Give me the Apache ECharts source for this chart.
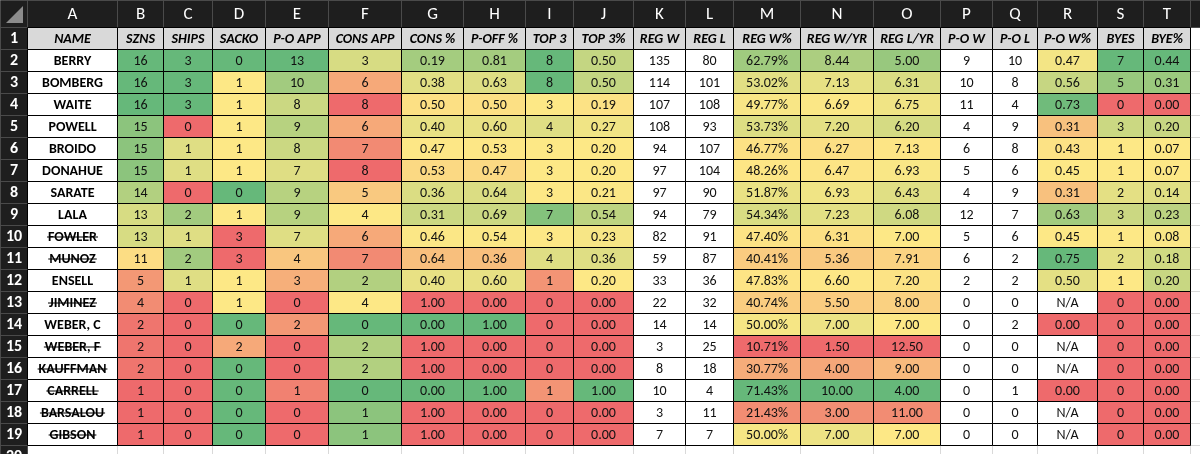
<!DOCTYPE html>
<html>
<head>
<meta charset="utf-8">
<script src="https://cdn.jsdelivr.net/npm/echarts@6/dist/echarts.min.js"></script>
<style>
  html, body { margin: 0; padding: 0; background: #fff; }
  #chart { width: 1200px; height: 454px; }
</style>
</head>
<body>
<div id="chart"></div>
<script>
// ---- data ----
var colLetters = ['A', 'B', 'C', 'D', 'E', 'F', 'G', 'H', 'I', 'J', 'K', 'L', 'M', 'N', 'O', 'P', 'Q', 'R', 'S', 'T', 'U'];
var headers = ['NAME', 'SZNS', 'SHIPS', 'SACKO', 'P-O APP', 'CONS APP', 'CONS %', 'P-OFF %', 'TOP 3', 'TOP 3%',
    'REG W', 'REG L', 'REG W%', 'REG W/YR', 'REG L/YR', 'P-O W', 'P-O L', 'P-O W%', 'BYES', 'BYE%'];
var names = ['BERRY', 'BOMBERG', 'WAITE', 'POWELL', 'BROIDO', 'DONAHUE', 'SARATE', 'LALA', 'FOWLER', 'MUNOZ',
    'ENSELL', 'JIMINEZ', 'WEBER, C', 'WEBER, F', 'KAUFFMAN', 'CARRELL', 'BARSALOU', 'GIBSON'];
var retired = ['FOWLER', 'MUNOZ', 'JIMINEZ', 'WEBER, F', 'KAUFFMAN', 'CARRELL', 'BARSALOU', 'GIBSON'];

var szns     = [16, 16, 16, 15, 15, 15, 14, 13, 13, 11, 5, 4, 2, 2, 2, 1, 1, 1];
var ships    = [3, 3, 3, 0, 1, 1, 0, 2, 1, 2, 1, 0, 0, 0, 0, 0, 0, 0];
var sacko    = [0, 1, 1, 1, 1, 1, 0, 1, 3, 3, 1, 1, 0, 2, 0, 0, 0, 0];
var poApp    = [13, 10, 8, 9, 8, 7, 9, 9, 7, 4, 3, 0, 2, 0, 0, 1, 0, 0];
var consApp  = [3, 6, 8, 6, 7, 8, 5, 4, 6, 7, 2, 4, 0, 2, 2, 0, 1, 1];
var consPct  = [0.19, 0.38, 0.50, 0.40, 0.47, 0.53, 0.36, 0.31, 0.46, 0.64, 0.40, 1, 0, 1, 1, 0, 1, 1];
var poffPct  = [0.81, 0.63, 0.50, 0.60, 0.53, 0.47, 0.64, 0.69, 0.54, 0.36, 0.60, 0, 1, 0, 0, 1, 0, 0];
var top3     = [8, 8, 3, 4, 3, 3, 3, 7, 3, 4, 1, 0, 0, 0, 0, 1, 0, 0];
var top3Pct  = [0.50, 0.50, 0.19, 0.27, 0.20, 0.20, 0.21, 0.54, 0.23, 0.36, 0.20, 0, 0, 0, 0, 1, 0, 0];
var regW     = [135, 114, 107, 108, 94, 97, 97, 94, 82, 59, 33, 22, 14, 3, 8, 10, 3, 7];
var regL     = [80, 101, 108, 93, 107, 104, 90, 79, 91, 87, 36, 32, 14, 25, 18, 4, 11, 7];
var regWPct  = [62.79, 53.02, 49.77, 53.73, 46.77, 48.26, 51.87, 54.34, 47.40, 40.41, 47.83, 40.74, 50.00, 10.71, 30.77, 71.43, 21.43, 50.00];
var regWYr   = [8.44, 7.13, 6.69, 7.20, 6.27, 6.47, 6.93, 7.23, 6.31, 5.36, 6.60, 5.50, 7.00, 1.50, 4.00, 10.00, 3.00, 7.00];
var regLYr   = [5.00, 6.31, 6.75, 6.20, 7.13, 6.93, 6.43, 6.08, 7.00, 7.91, 7.20, 8.00, 7.00, 12.50, 9.00, 4.00, 11.00, 7.00];
var poW      = [9, 10, 11, 4, 6, 5, 4, 12, 5, 6, 2, 0, 0, 0, 0, 0, 0, 0];
var poL      = [10, 8, 4, 9, 8, 6, 9, 7, 6, 2, 2, 0, 2, 0, 0, 1, 0, 0];
var poWPct   = [0.47, 0.56, 0.73, 0.31, 0.43, 0.45, 0.31, 0.63, 0.45, 0.75, 0.50, null, 0, null, null, 0, null, null];
var byes     = [7, 5, 0, 3, 1, 1, 2, 3, 1, 2, 1, 0, 0, 0, 0, 0, 0, 0];
var byePct   = [0.44, 0.31, 0, 0.20, 0.07, 0.07, 0.14, 0.23, 0.08, 0.18, 0.20, 0, 0, 0, 0, 0, 0, 0];

// columns B..T: values, number format, colour scale (1 = high is green, -1 = low is green, 0 = none)
var columns = [
    {v: szns, fmt: 'int', scale: 1},
    {v: ships, fmt: 'int', scale: 1},
    {v: sacko, fmt: 'int', scale: -1},
    {v: poApp, fmt: 'int', scale: 1},
    {v: consApp, fmt: 'int', scale: -1},
    {v: consPct, fmt: 'dec', scale: -1},
    {v: poffPct, fmt: 'dec', scale: 1},
    {v: top3, fmt: 'int', scale: 1},
    {v: top3Pct, fmt: 'dec', scale: 1},
    {v: regW, fmt: 'int', scale: 0},
    {v: regL, fmt: 'int', scale: 0},
    {v: regWPct, fmt: 'pct', scale: 1},
    {v: regWYr, fmt: 'dec', scale: 1},
    {v: regLYr, fmt: 'dec', scale: -1},
    {v: poW, fmt: 'int', scale: 0},
    {v: poL, fmt: 'int', scale: 0},
    {v: poWPct, fmt: 'dec', scale: 1},
    {v: byes, fmt: 'int', scale: 1},
    {v: byePct, fmt: 'dec', scale: 1}
];

// ---- layout ----
var rowHeadW = 27;
var colHeadH = 27;
var rowH = 22;
var colWidths = [90, 46, 49, 53, 63, 73, 62, 62, 48, 60, 52, 48, 67, 73, 67, 52, 45, 60, 46, 47, 64];
var lastRow = 20;
var FONT = 'Calibri, Carlito, Lato, sans-serif';

var RED = [238, 106, 108], YELLOW = [253, 232, 134], GREEN = [102, 184, 122];

function xLeft(c) {
    if (c < 0) return 0;
    var x = rowHeadW;
    for (var i = 0; i < c; i++) x += colWidths[i];
    return x;
}
function colW(c) { return c < 0 ? rowHeadW : colWidths[c]; }
function yTop(r) { return r === 0 ? 0 : colHeadH + (r - 1) * rowH; }
function rowHt(r) { return r === 0 ? colHeadH : rowH; }

function lerp(a, b, t) {
    return 'rgb(' + [0, 1, 2].map(function (i) { return Math.round(a[i] + (b[i] - a[i]) * t); }).join(',') + ')';
}

// excel style 3-colour scale: min / 50th percentile / max
function scaleColor(vals, v, dir) {
    var nums = vals.filter(function (x) { return x !== null; }).slice().sort(function (a, b) { return a - b; });
    var n = nums.length;
    var min = nums[0], max = nums[n - 1];
    var pos = (n - 1) * 0.5, lo = Math.floor(pos);
    var mid = nums[lo] + (nums[Math.min(lo + 1, n - 1)] - nums[lo]) * (pos - lo);
    var low = dir > 0 ? RED : GREEN, high = dir > 0 ? GREEN : RED;
    if (v <= mid) {
        return lerp(low, YELLOW, mid > min ? (v - min) / (mid - min) : 0);
    }
    return lerp(YELLOW, high, max > mid ? (v - mid) / (max - mid) : 1);
}

function fmtValue(v, fmt) {
    if (v === null) return 'N/A';
    if (fmt === 'int') return String(v);
    if (fmt === 'pct') return v.toFixed(2) + '%';
    return v.toFixed(2);
}

var measureCtx = document.createElement('canvas').getContext('2d');
function textWidth(text, font) {
    measureCtx.font = font;
    return measureCtx.measureText(text).width;
}

// ---- build cells ----
var cells = [];
var c, r;
// plain sheet outside the table (light gridlines)
for (r = 1; r <= lastRow; r++) {
    for (c = 0; c < colWidths.length; c++) {
        if (r <= 19 && c <= 19) continue;
        cells.push({value: [c, r], fill: '#fff', stroke: '#d9d9d9'});
    }
}
// column letters
cells.push({value: [-1, 0], fill: '#1e1e1e', stroke: '#4a4a4a', corner: true});
for (c = 0; c < colLetters.length; c++) {
    cells.push({value: [c, 0], fill: '#1e1e1e', stroke: '#4a4a4a', text: colLetters[c],
        color: '#fff', size: 17, weight: 'normal', style: 'normal'});
}
// row numbers
for (r = 1; r <= lastRow; r++) {
    cells.push({value: [-1, r], fill: '#1e1e1e', stroke: '#4a4a4a', text: String(r),
        color: '#fff', size: 16, weight: 'bold', style: 'normal'});
}
// header row
for (c = 0; c < headers.length; c++) {
    cells.push({value: [c, 1], fill: '#d9d9d9', stroke: '#000', text: headers[c],
        color: '#000', size: 14, weight: 'bold', style: 'italic'});
}
// body
for (r = 0; r < names.length; r++) {
    cells.push({value: [0, r + 2], fill: '#fff', stroke: '#000', text: names[r],
        color: '#000', size: 14, weight: 'bold', style: 'normal',
        strike: retired.indexOf(names[r]) >= 0});
    for (c = 0; c < columns.length; c++) {
        var col = columns[c];
        var v = col.v[r];
        cells.push({
            value: [c + 1, r + 2],
            fill: (col.scale && v !== null) ? scaleColor(col.v, v, col.scale) : '#fff',
            stroke: '#000',
            text: fmtValue(v, col.fmt),
            color: '#111', size: 14, weight: 'normal', style: 'normal'
        });
    }
}

function renderCell(params, api) {
    var cell = cells[params.dataIndex];
    var c = cell.value[0], r = cell.value[1];
    var p0 = api.coord([xLeft(c), yTop(r)]);
    var p1 = api.coord([xLeft(c) + colW(c), yTop(r) + rowHt(r)]);
    var x0 = Math.round(p0[0]), y0 = Math.round(p0[1]);
    var w = Math.round(p1[0]) - x0, h = Math.round(p1[1]) - y0;
    var children = [{
        type: 'rect',
        shape: {x: x0 + 0.5, y: y0 + 0.5, width: w, height: h},
        style: {fill: cell.fill, stroke: cell.stroke, lineWidth: 1}
    }];
    if (cell.corner) {
        children.push({
            type: 'polygon',
            shape: {points: [[x0 + w - 4, y0 + 6], [x0 + w - 4, y0 + h - 4], [x0 + 6, y0 + h - 4]]},
            style: {fill: '#8c8c8c'}
        });
    }
    if (cell.text) {
        var cx = x0 + w / 2 + 0.5, cy = y0 + h / 2 + 1;
        children.push({
            type: 'text',
            style: {
                text: cell.text, x: cx, y: cy, align: 'center', verticalAlign: 'middle',
                fill: cell.color, fontSize: cell.size, fontWeight: cell.weight,
                fontStyle: cell.style, fontFamily: FONT
            }
        });
        if (cell.strike) {
            var tw = textWidth(cell.text, cell.weight + ' ' + cell.size + 'px ' + FONT);
            children.push({
                type: 'line',
                shape: {x1: cx - tw / 2 - 1, y1: cy, x2: cx + tw / 2 + 1, y2: cy},
                style: {stroke: '#000', lineWidth: 1.2}
            });
        }
    }
    return {type: 'group', children: children};
}

var chart = echarts.init(document.getElementById('chart'));
chart.setOption({
    animation: false,
    backgroundColor: '#fff',
    grid: {left: 0, right: 0, top: 0, bottom: 0},
    xAxis: {type: 'value', min: 0, max: 1200, show: false},
    yAxis: {type: 'value', min: 0, max: 454, inverse: true, show: false},
    series: [{
        type: 'custom',
        renderItem: renderCell,
        data: cells,
        clip: false,
        silent: true
    }]
});
</script>
</body>
</html>
